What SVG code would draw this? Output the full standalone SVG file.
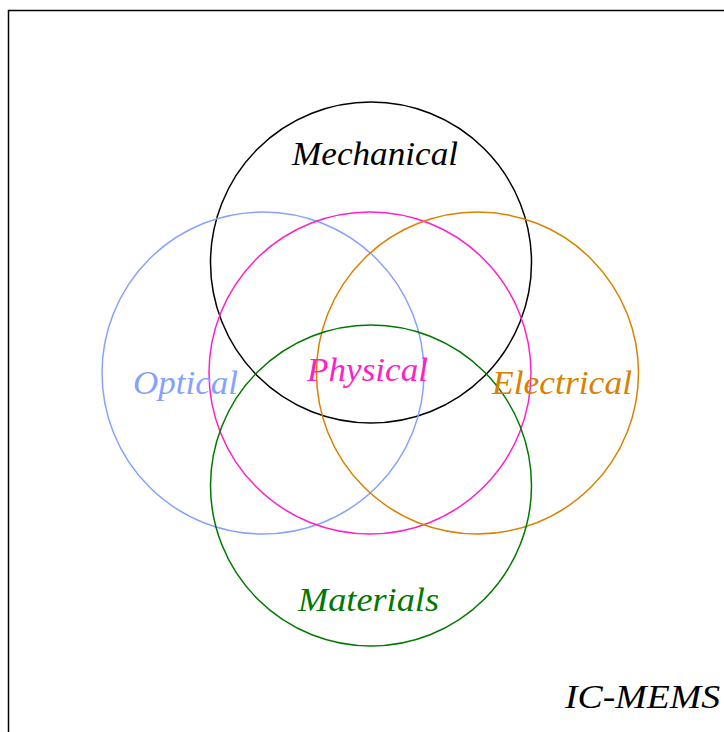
<svg xmlns="http://www.w3.org/2000/svg" width="724" height="732" viewBox="0 0 724 732">
<style>
.c{fill:none;stroke-width:1.5}
.t{font-family:"Liberation Serif","Times New Roman",serif;font-style:italic;font-size:34px}
</style>
<rect width="724" height="732" fill="#fff"/>
<path d="M8.5,732 V10.5 H724" fill="none" stroke="#000" stroke-width="1.5"/>
<g id="mechanical"><circle class="c" cx="371" cy="262.5" r="160.5" stroke="#000"/></g>
<g id="optical"><circle class="c" cx="263" cy="373" r="161" stroke="#86a2ff"/></g>
<g id="physical"><circle class="c" cx="370" cy="373" r="161" stroke="#ff1fc8"/></g>
<g id="electrical"><circle class="c" cx="477.5" cy="373" r="161" stroke="#d98200"/></g>
<g id="materials"><circle class="c" cx="371" cy="485.5" r="160.5" stroke="#007800"/></g>
<g id="labels">
<text class="t" x="292" y="165" textLength="166" lengthAdjust="spacingAndGlyphs" fill="#000">Mechanical</text>
<text class="t" x="133" y="394" textLength="105" lengthAdjust="spacingAndGlyphs" fill="#86a2ff">Optical</text>
<text class="t" x="307" y="381" textLength="121" lengthAdjust="spacingAndGlyphs" fill="#ff1fc8">Physical</text>
<text class="t" x="492" y="394" textLength="140" lengthAdjust="spacingAndGlyphs" fill="#d98200">Electrical</text>
<text class="t" x="298" y="611" textLength="141" lengthAdjust="spacingAndGlyphs" fill="#007800">Materials</text>
<text class="t" x="565" y="708" textLength="155" lengthAdjust="spacingAndGlyphs" fill="#000">IC-MEMS</text>
</g>
</svg>
